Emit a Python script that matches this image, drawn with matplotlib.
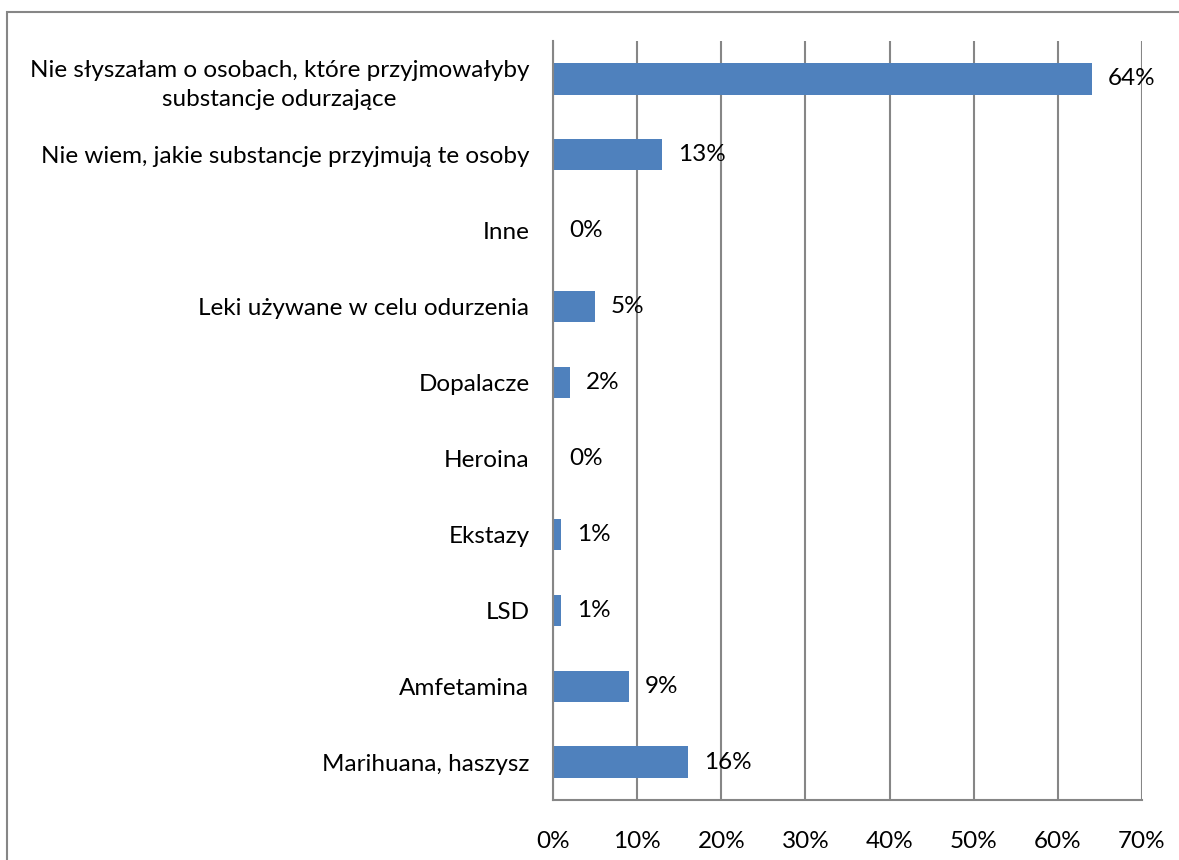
import matplotlib.pyplot as plt
from matplotlib.patches import Rectangle

# Dane wykresu (od dołu do góry)
kategorie = [
    "Marihuana, haszysz",
    "Amfetamina",
    "LSD",
    "Ekstazy",
    "Heroina",
    "Dopalacze",
    "Leki używane w celu odurzenia",
    "Inne",
    "Nie wiem, jakie substancje przyjmują te osoby",
    "Nie słyszałam o osobach, które przyjmowałyby\nsubstancje odurzające",
]
wartosci = [16, 9, 1, 1, 0, 2, 5, 0, 13, 64]
etykiety_osi = ["0%", "10%", "20%", "30%", "40%", "50%", "60%", "70%"]

plt.rcParams['font.family'] = ['Lato', 'DejaVu Sans']
fs = 17.5

fig = plt.figure(figsize=(11.79, 8.6), dpi=100)
W, H = 1179, 860
ax = fig.add_axes([553 / W, 1 - 800 / H, (1142 - 553) / W, (800 - 41) / H])

kolor = "#4F81BD"
szary = "#868686"

y = list(range(len(kategorie)))
ax.barh(y, wartosci, height=0.41, color=kolor, zorder=3)

for yi, v in zip(y, wartosci):
    ax.text(v + 1.9, yi, f"{v}%", va="center", ha="left", fontsize=fs, zorder=4)

ax.set_xlim(0, 70)
ax.set_ylim(-0.5, len(kategorie) - 0.5)
ax.set_xticks(range(0, 71, 10))
ax.set_xticklabels(etykiety_osi, fontsize=fs)
ax.set_yticks(y)
ax.set_yticklabels(kategorie, fontsize=fs, multialignment="center", linespacing=1.45)
ax.tick_params(axis="both", length=0)
ax.tick_params(axis="x", pad=22)
ax.tick_params(axis="y", pad=17)

ax.grid(axis="x", color=szary, linewidth=1.5, zorder=0)
for s in ["top", "right"]:
    ax.spines[s].set_visible(False)
for s in ["left", "bottom"]:
    ax.spines[s].set_color(szary)
    ax.spines[s].set_linewidth(1.5)
    ax.spines[s].set_zorder(5)

# ramka wykresu
fig.patches.append(Rectangle((7 / W, -0.1), 1.2, 1 - 12 / H + 0.1,
                             transform=fig.transFigure, fill=False,
                             edgecolor=szary, linewidth=1.5))

fig.savefig("out.png", dpi=100)
